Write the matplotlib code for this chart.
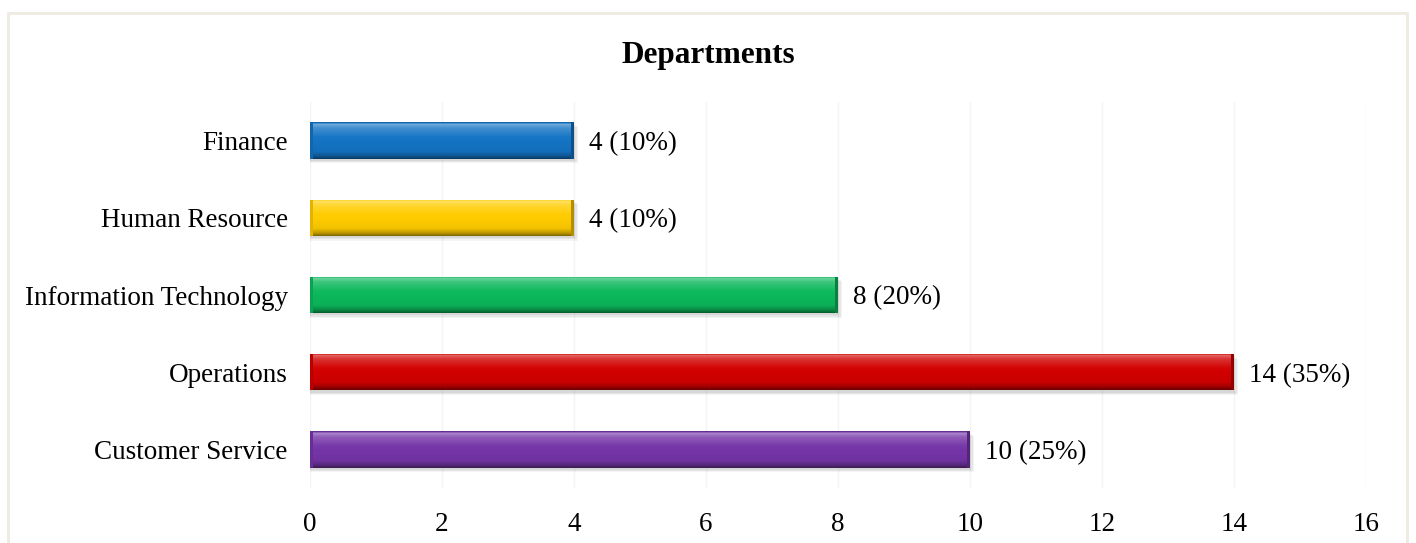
import numpy as np
import matplotlib.pyplot as plt
from matplotlib.colors import to_rgb
from matplotlib.patches import Rectangle

departments = ["Customer Service", "Operations", "Information Technology",
               "Human Resource", "Finance"]
counts = [10, 14, 8, 4, 4]
colors = ["#7535A8", "#D20000", "#0CB85C", "#FFCC00", "#1474C4"]
xticks = [0, 2, 4, 6, 8, 10, 12, 14, 16]

plt.rcParams['font.family'] = ['Liberation Serif', 'DejaVu Serif']

fig = plt.figure(figsize=(14.16, 5.43), dpi=100)
ax = fig.add_axes([310 / 1416, 1 - 488 / 543, 1056 / 1416, 386 / 543])

# beige frame around the chart area
fig.patches.append(Rectangle((8 / 1416, -0.1), 1399 / 1416, 1.1 - 13 / 543,
                             transform=fig.transFigure, fill=False,
                             edgecolor="#EEEAE0", linewidth=2))


def shade(rgb, f):
    rgb = np.array(rgb)
    if f >= 0:
        return rgb + (1 - rgb) * f
    return rgb * (1 + f)


t = np.linspace(0, 1, 60)
prof = np.interp(t, [0, 0.05, 0.15, 0.4, 0.8, 0.92, 1],
                 [-0.2, 0.4, 0.2, 0.02, -0.05, -0.25, -0.5])

h = 0.47
total = sum(counts)
ypos = np.arange(len(departments))

for y, v, c in zip(ypos, counts, colors):
    # soft drop shadow, a few layers to blur it
    for k, a in enumerate([0.12, 0.1, 0.08]):
        ax.barh(y - 0.03 - 0.015 * k, v + 0.02 + 0.02 * k, height=h,
                left=0.0, color="0.45", alpha=a, zorder=2, linewidth=0)
    bar = ax.barh(y, v, height=h, color=c, zorder=3, linewidth=0)[0]
    base = to_rgb(c)
    grad = np.array([shade(base, f) for f in prof])[:, None, :]
    img = ax.imshow(grad, extent=(0, v, y - h / 2, y + h / 2),
                    aspect='auto', zorder=4, interpolation='bilinear')
    img.set_clip_path(bar)
    # darker bevel at both ends of the bar
    ax.barh(y, 0.05, height=h, left=v - 0.05, color=shade(base, -0.3),
            zorder=5, linewidth=0)
    ax.barh(y, 0.04, height=h, left=0, color=shade(base, -0.12),
            zorder=5, linewidth=0)
    ax.text(v + 0.23, y - 0.04, f"{v} ({v / total * 100:.0f}%)", va='center',
            ha='left', fontsize=19.5, color="black")

ax.set_xlim(0, 16)
ax.set_ylim(-0.5, len(departments) - 0.5)
ax.set_xticks(xticks)
ax.set_xticklabels([str(x) for x in xticks])
ax.set_yticks(ypos)
ax.set_yticklabels(departments)
ax.tick_params(axis='both', length=0, labelsize=19.5, labelcolor="black")
ax.tick_params(axis='x', pad=17.5)
ax.tick_params(axis='y', pad=16)
ax.grid(axis='x', color="#F4F4F4", linewidth=1, zorder=0)
ax.set_axisbelow(True)
for s in ax.spines.values():
    s.set_visible(False)

fig.text(708 / 1416, 1 - 56 / 543, "Departments", ha='center', va='center',
         fontsize=22.5, fontweight='bold', color="black")

fig.savefig("out.png", dpi=100)
